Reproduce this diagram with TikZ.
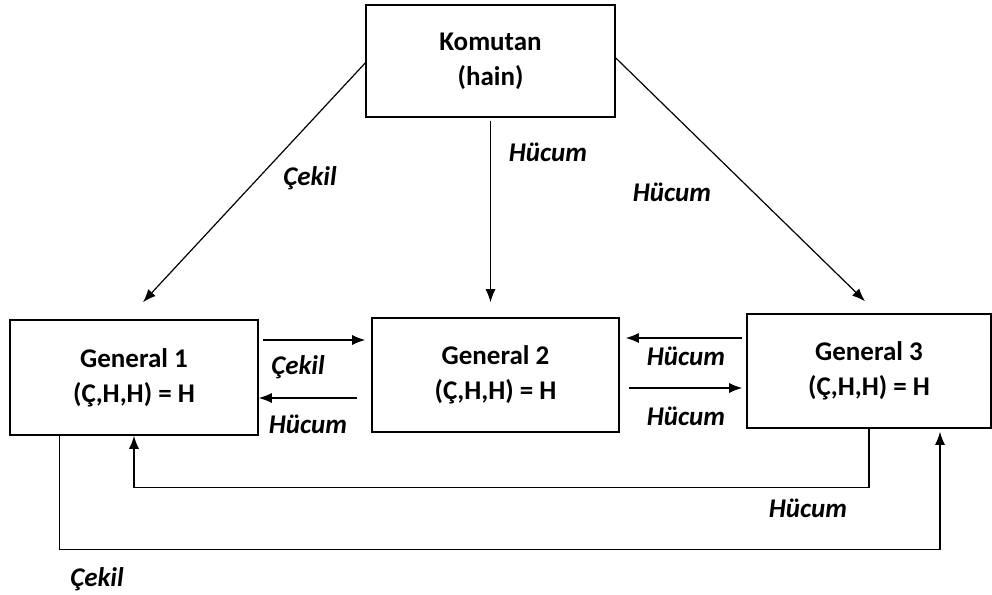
\documentclass[tikz,border=0pt]{standalone}
\usepackage{fontspec}
\setmainfont{Carlito}
\usetikzlibrary{arrows.meta,calc}
\begin{document}
\begin{tikzpicture}[x=1pt,y=-1pt,
  box/.style={draw,line width=1.6pt,rectangle,inner sep=0pt,align=center,
              font=\fontsize{27}{35}\selectfont\bfseries},
  arr/.style={line width=1.2pt,-{Latex[length=13pt,width=10pt]}},
  lbl/.style={font=\fontsize{27}{30}\selectfont\bfseries\itshape,inner sep=0pt}]
\useasboundingbox (0,0) rectangle (992,594);

% generals and commander
\node[box,minimum width=249pt,minimum height=112pt] (kom) at (490.5,61) {Komutan\\(hain)};
\node[box,minimum width=248pt,minimum height=115pt] (g1) at (134,377.5) {General 1\\(Ç,H,H) = H};
\node[box,minimum width=247pt,minimum height=114pt] (g2) at (495.5,375) {General 2\\(Ç,H,H) = H};
\node[box,minimum width=244pt,minimum height=114pt] (g3) at (869,371) {General 3\\(Ç,H,H) = H};

% commander's orders
\draw[arr] ($(kom.west)+(0,2)$) -- ($(g1.north)+(9,-17)$);
\draw[arr] ($(kom.south)+(0,3)$) -- ($(g2.north)+(-5,-15)$);
\draw[arr] ($(kom.east)+(0,-3)$) -- ($(g3.north)+(-4,-12)$);
\node[lbl] (l1) at (310,178) {Çekil};
\node[lbl] (l2) at (548,152) {Hücum};
\node[lbl] (l3) at (672,192) {Hücum};

% messages between generals
\draw[arr] ($(g1.east)+(4,-37.5)$) -- ($(g2.west)+(-6,-35)$);
\draw[arr] ($(g2.west)+(-14,23)$) -- ($(g1.east)+(0,20.5)$);
\draw[arr] ($(g3.west)+(-4,-33)$) -- ($(g2.east)+(6,-37)$);
\draw[arr] ($(g2.east)+(9,13)$) -- ($(g3.west)+(-4,17)$);
\node[lbl] (l4) at (298,367) {Çekil};
\node[lbl] (l5) at (308,424) {Hücum};
\node[lbl] (l6) at (686,356) {Hücum};
\node[lbl] (l7) at (686,416) {Hücum};

% long routes below
\draw[arr] (g3.south) -- ++(0,59) -| (g1.south);
\draw[arr] ($(g1.south west)+(50,0)$) -- ++(0,114) -| ($(g3.south)+(71,3)$);
\node[lbl] (l8) at (808,508) {Hücum};
\node[lbl] (l9) at (97,579) {Çekil};
\end{tikzpicture}
\end{document}
